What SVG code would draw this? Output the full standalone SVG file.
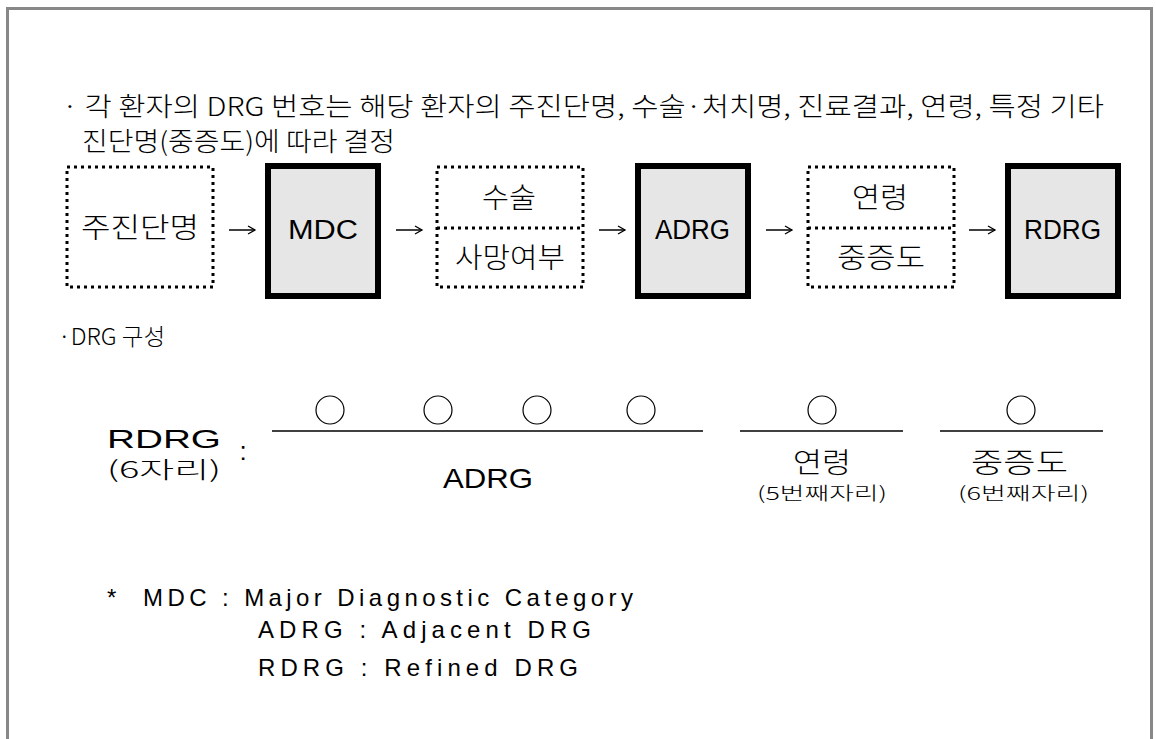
<svg xmlns="http://www.w3.org/2000/svg" width="1156" height="739" viewBox="0 0 1156 739">
<style>
.t{font-family:"Liberation Sans","Noto Sans CJK KR",sans-serif;fill:#000}
.k{font-family:"Noto Sans CJK KR","Liberation Sans",sans-serif;font-weight:300;fill:#000}
.dot{fill:none;stroke:#000;stroke-width:3;stroke-dasharray:3 4}
.solid{fill:#e6e6e6;stroke:#000;stroke-width:6}
.arr{stroke:#000;stroke-width:1.5;fill:none}
.ul{stroke:#000;stroke-width:1.5}
.c{fill:none;stroke:#000;stroke-width:1.2}
</style>
<defs>
<marker id="ah" markerWidth="10" markerHeight="10" refX="8" refY="5" orient="auto" markerUnits="userSpaceOnUse">
<path d="M1,1 L8,5 L1,9" fill="none" stroke="#000" stroke-width="1.3"/>
</marker>
</defs>
<rect width="1156" height="739" fill="#fff"/>
<path d="M7.5,739 V8.5 H1151.5 V739" fill="none" stroke="#888" stroke-width="3"/>

<text class="k" x="62" y="116" font-size="26" textLength="1042" lengthAdjust="spacingAndGlyphs">· 각 환자의 DRG 번호는 해당 환자의 주진단명, 수술·처치명, 진료결과, 연령, 특정 기타</text>
<text class="k" x="82" y="151" font-size="26" textLength="313" lengthAdjust="spacingAndGlyphs">진단명(중증도)에  따라  결정</text>

<g id="n1">
<rect class="dot" x="67" y="167" width="146" height="120"/>
<text class="k" x="81" y="238" font-size="28" textLength="118" lengthAdjust="spacingAndGlyphs">주진단명</text>
</g>
<g id="n2">
<rect class="solid" x="268" y="166" width="110" height="130"/>
<text class="t" x="288" y="239" font-size="27" textLength="70" lengthAdjust="spacingAndGlyphs">MDC</text>
</g>
<g id="n3">
<rect class="dot" x="437" y="167" width="146" height="120"/>
<line class="dot" x1="437" y1="228" x2="583" y2="228"/>
<text class="k" x="482" y="208" font-size="28" textLength="54" lengthAdjust="spacingAndGlyphs">수술</text>
<text class="k" x="455" y="268" font-size="28" textLength="110" lengthAdjust="spacingAndGlyphs">사망여부</text>
</g>
<g id="n4">
<rect class="solid" x="638" y="166" width="110" height="130"/>
<text class="t" x="655" y="239" font-size="27" textLength="75" lengthAdjust="spacingAndGlyphs">ADRG</text>
</g>
<g id="n5">
<rect class="dot" x="808" y="167" width="146" height="120"/>
<line class="dot" x1="808" y1="228" x2="954" y2="228"/>
<text class="k" x="852" y="208" font-size="28" textLength="56" lengthAdjust="spacingAndGlyphs">연령</text>
<text class="k" x="837" y="268" font-size="28" textLength="88" lengthAdjust="spacingAndGlyphs">중증도</text>
</g>
<g id="n6">
<rect class="solid" x="1008" y="166" width="110" height="130"/>
<text class="t" x="1024" y="239" font-size="27" textLength="77" lengthAdjust="spacingAndGlyphs">RDRG</text>
</g>
<g id="connectors">
<line class="arr" x1="229" y1="230" x2="255" y2="230" marker-end="url(#ah)"/>
<line class="arr" x1="396" y1="230" x2="422" y2="230" marker-end="url(#ah)"/>
<line class="arr" x1="599" y1="230" x2="625" y2="230" marker-end="url(#ah)"/>
<line class="arr" x1="766" y1="230" x2="792" y2="230" marker-end="url(#ah)"/>
<line class="arr" x1="969" y1="230" x2="995" y2="230" marker-end="url(#ah)"/>
</g>

<text class="k" x="58" y="345" font-size="23" textLength="107" lengthAdjust="spacingAndGlyphs">·DRG  구성</text>

<g id="rdrg">
<text class="t" x="107" y="448" font-size="26" textLength="114" lengthAdjust="spacingAndGlyphs">RDRG</text>
<text class="k" x="107" y="478" font-size="23" font-weight="400" textLength="114" lengthAdjust="spacingAndGlyphs">(6자리)</text>
<text class="t" x="243" y="460" font-size="26" text-anchor="middle">:</text>
</g>
<g id="digits">
<line class="ul" x1="272" y1="431" x2="703" y2="431"/>
<line class="ul" x1="740" y1="431" x2="903" y2="431"/>
<line class="ul" x1="940" y1="431" x2="1103" y2="431"/>
<ellipse class="c" cx="330" cy="410" rx="14" ry="14"/>
<ellipse class="c" cx="438" cy="410" rx="14" ry="14"/>
<ellipse class="c" cx="537" cy="410" rx="14" ry="14"/>
<ellipse class="c" cx="641" cy="410" rx="14" ry="14"/>
<ellipse class="c" cx="822" cy="410" rx="14" ry="14"/>
<ellipse class="c" cx="1021" cy="410" rx="14" ry="14"/>
<text class="t" x="443" y="488" font-size="28" textLength="90" lengthAdjust="spacingAndGlyphs">ADRG</text>
<text class="k" x="793" y="473" font-size="28" textLength="58" lengthAdjust="spacingAndGlyphs">연령</text>
<text class="k" x="757" y="500" font-size="18" textLength="130" lengthAdjust="spacingAndGlyphs">(5번째자리)</text>
<text class="k" x="971" y="473" font-size="28" textLength="97" lengthAdjust="spacingAndGlyphs">중증도</text>
<text class="k" x="958" y="500" font-size="18" textLength="131" lengthAdjust="spacingAndGlyphs">(6번째자리)</text>
</g>

<g id="notes">
<text class="t" x="107" y="606" font-size="24">*</text>
<text class="t" x="143" y="606" font-size="24" textLength="490" lengthAdjust="spacing">MDC : Major Diagnostic Category</text>
<text class="t" x="258" y="638" font-size="24" textLength="333" lengthAdjust="spacing">ADRG  :  Adjacent  DRG</text>
<text class="t" x="258" y="676" font-size="24" textLength="320" lengthAdjust="spacing">RDRG  :  Refined  DRG</text>
</g>
</svg>
